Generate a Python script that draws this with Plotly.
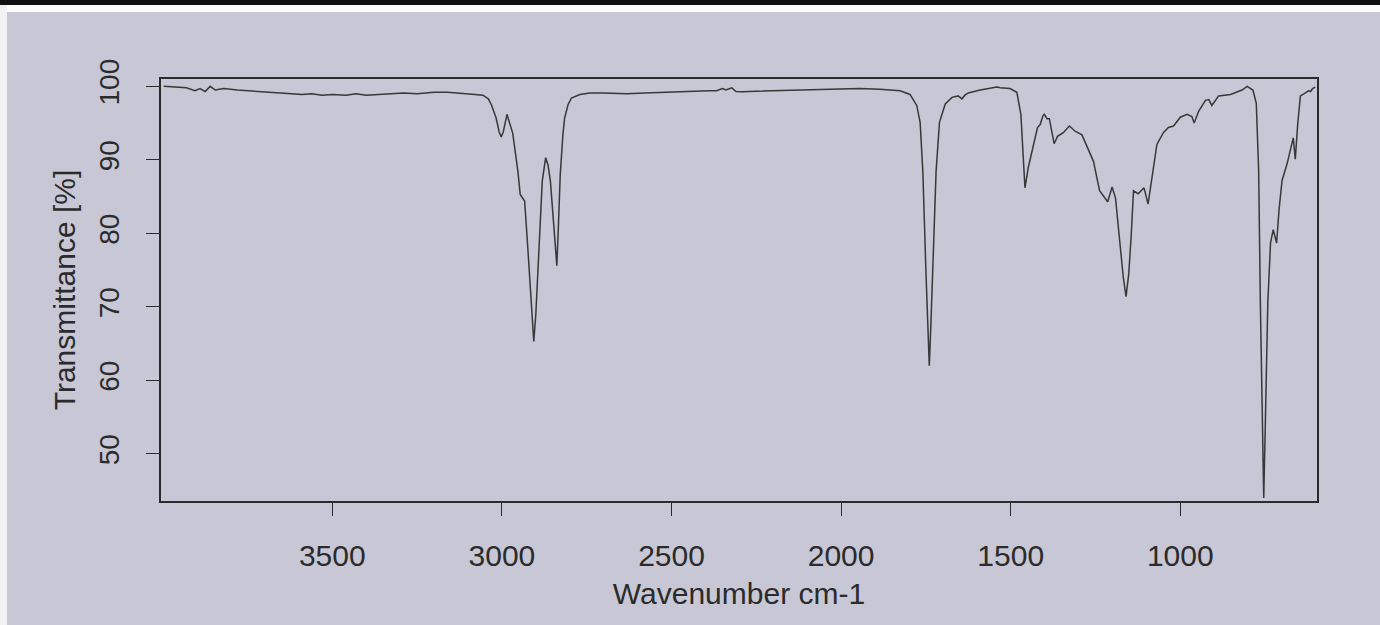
import plotly.graph_objects as go

# FTIR spectrum
wavenumber = [
    3997, 3960, 3930, 3905, 3890, 3875, 3860, 3845, 3820, 3780, 3740, 3700,
    3660, 3620, 3590, 3560, 3530, 3500, 3460, 3430, 3400, 3370, 3330, 3290,
    3250, 3200, 3160, 3120, 3080, 3056, 3040, 3031, 3017, 3008, 3002, 2996,
    2985, 2968, 2953, 2946, 2933, 2925, 2919, 2912, 2906, 2900, 2894, 2888,
    2881, 2871, 2864, 2857, 2848, 2842, 2838, 2833, 2828, 2820, 2815, 2805,
    2795, 2770, 2741, 2700, 2632, 2580, 2505, 2440, 2390, 2367, 2350, 2340,
    2322, 2310, 2290, 2250, 2200, 2142, 2080, 2000, 1945, 1886, 1826, 1797,
    1777, 1767, 1759, 1750, 1745, 1740, 1735, 1730, 1720, 1710, 1693, 1673,
    1655, 1644, 1635, 1625, 1590, 1541, 1531, 1502, 1482, 1470, 1464, 1458,
    1448, 1433, 1421, 1413, 1405, 1401, 1393, 1386, 1379, 1372, 1362, 1345,
    1327, 1310, 1290, 1275, 1256, 1238, 1226, 1214, 1201, 1191, 1177, 1168,
    1160, 1152, 1145, 1138, 1124, 1107, 1095, 1085, 1069, 1050, 1035, 1020,
    1000, 980, 966, 959, 946, 926, 916, 907, 887, 852, 818, 803, 786, 776,
    769, 764, 759, 754, 749, 742, 734, 726, 716, 709, 700, 685, 667, 661,
    654, 646, 631, 622, 616, 610, 602,
]
transmittance = [
    100.0, 99.9, 99.8, 99.4, 99.7, 99.3, 100.0, 99.5, 99.7, 99.5, 99.4, 99.3,
    99.2, 99.0, 98.9, 99.0, 98.8, 98.9, 98.8, 99.0, 98.8, 98.9, 99.0, 99.1,
    99.0, 99.2, 99.2, 99.1, 98.9, 98.8, 98.3, 97.5, 95.7, 93.8, 93.1, 93.8,
    96.2, 93.6, 88.5, 85.3, 84.4, 79.0, 74.5, 69.0, 65.3, 69.0, 74.5, 80.5,
    87.1, 90.3, 89.3, 87.1, 82.2, 78.0, 75.6, 81.5, 88.0, 93.5, 95.7, 97.5,
    98.4, 98.9, 99.1, 99.1, 99.0, 99.1, 99.25, 99.3, 99.4, 99.4, 99.7, 99.5,
    99.8, 99.3, 99.25, 99.35, 99.4, 99.5, 99.6, 99.65, 99.7, 99.6, 99.4, 98.9,
    97.4, 95.1, 88.4, 74.9, 68.0, 62.0, 68.0, 74.9, 88.4, 95.1, 97.6, 98.5,
    98.7, 98.3, 98.8, 99.1, 99.5, 99.9, 99.8, 99.7, 99.2, 96.2, 90.4, 86.2,
    89.0, 91.9, 94.4, 94.8, 96.0, 96.2, 95.6, 95.6, 94.0, 92.2, 93.2, 93.7,
    94.6, 93.9, 93.4, 91.8, 89.8, 85.8, 85.1, 84.3, 86.3, 84.8, 78.2, 74.0,
    71.4, 74.5, 79.5, 85.8, 85.4, 86.2, 84.0, 87.2, 92.1, 93.7, 94.4, 94.6,
    95.8, 96.2, 95.9, 95.0, 96.6, 98.1, 98.2, 97.4, 98.7, 98.9, 99.5, 100.0,
    99.5, 97.7, 88.6, 70.6, 54.8, 44.0, 54.8, 70.6, 78.7, 80.5, 78.7, 83.2,
    87.2, 89.5, 93.0, 90.1, 94.8, 98.7, 99.1, 99.4, 99.3, 99.7, 99.9,
]
x_ticks = [3500, 3000, 2500, 2000, 1500, 1000]
y_ticks = [50, 60, 70, 80, 90, 100]

paper = "#c7c7d5"
ink = "#2b2b2b"
font_family = "Liberation Sans, Arial, Helvetica, sans-serif"

fig = go.Figure(
    go.Scatter(
        x=wavenumber,
        y=transmittance,
        mode="lines",
        line=dict(color="#383838", width=1.5),
        hoverinfo="x+y",
        showlegend=False,
    )
)

W, H = 1380, 625
ml, mr, mt, mb = 161, 63, 79, 124
pw, ph = W - ml - mr, H - mt - mb

def px_x(px):
    return (px - ml) / pw

def px_y(py):
    return 1 - (py - mt) / ph

# photo frame strips (white edge and dark bar at the top)
shapes = [
    dict(type="rect", xref="paper", yref="paper", x0=px_x(0), x1=px_x(W),
         y0=px_y(12), y1=px_y(0), fillcolor="#ffffff", line_width=0, layer="below"),
    dict(type="rect", xref="paper", yref="paper", x0=px_x(0), x1=px_x(7),
         y0=px_y(H), y1=px_y(0), fillcolor="#f2f2f5", line_width=0, layer="below"),
    dict(type="rect", xref="paper", yref="paper", x0=px_x(0), x1=px_x(W),
         y0=px_y(5), y1=px_y(0), fillcolor="#111111", line_width=0, layer="below"),
]

fig.update_layout(
    width=W,
    height=H,
    margin=dict(l=ml, r=mr, t=mt, b=mb, autoexpand=False),
    paper_bgcolor=paper,
    plot_bgcolor=paper,
    font=dict(family=font_family, color=ink),
    shapes=shapes,
)

fig.update_xaxes(
    range=[4005, 597],
    tickvals=x_ticks,
    ticktext=[str(v) for v in x_ticks],
    ticks="outside",
    ticklen=13,
    tickwidth=1.4,
    tickcolor=ink,
    tickfont=dict(size=30, color=ink),
    ticklabelstandoff=14,
    showgrid=False,
    zeroline=False,
    showline=True,
    linecolor=ink,
    linewidth=1.5,
    mirror=True,
    title=dict(text="Wavenumber cm-1", font=dict(size=30, color=ink), standoff=12),
    automargin=False,
)
fig.update_yaxes(
    range=[43.6, 101.0],
    tickvals=y_ticks,
    ticktext=[str(v) for v in y_ticks],
    ticks="outside",
    ticklen=13,
    tickwidth=1.4,
    tickcolor=ink,
    tickangle=-90,
    tickfont=dict(size=28, color=ink),
    ticklabelstandoff=16,
    showgrid=False,
    zeroline=False,
    showline=True,
    linecolor=ink,
    linewidth=1.5,
    mirror=True,
    title=dict(text="Transmittance [%]", font=dict(size=30, color=ink), standoff=10),
    automargin=False,
)

fig.write_html(
    "out.html",
    config={"displayModeBar": False},
    post_script="document.body.style.margin='0px';document.body.style.overflow='hidden';",
)
